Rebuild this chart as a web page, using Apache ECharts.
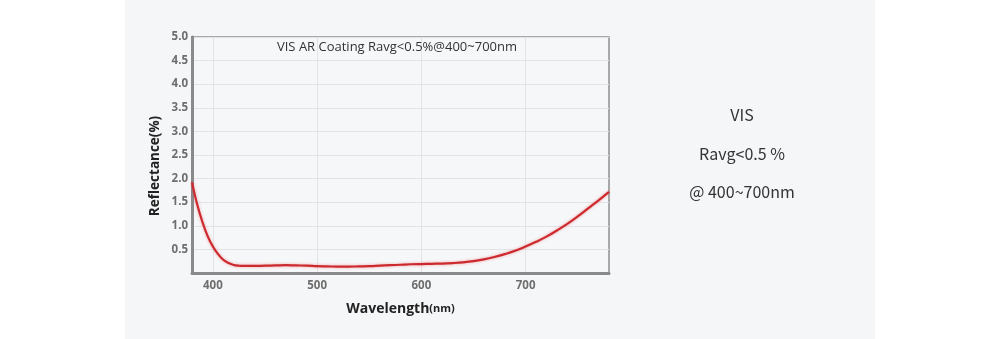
<!DOCTYPE html>
<html>
<head>
<meta charset="utf-8">
<script src="https://cdn.jsdelivr.net/npm/echarts@6/dist/echarts.min.js"></script>
<style>
  html, body { margin: 0; padding: 0; background: #ffffff; }
  #chart { width: 1000px; height: 339px; }
</style>
</head>
<body>
<div id="chart"></div>
<script>
// Reflectance spectrum of the visible-band AR coating
const wavelengths = [380, 385, 390, 395, 400, 405, 410, 415, 420, 425, 430, 440, 450, 460, 470, 480, 490,
  500, 510, 520, 530, 540, 550, 560, 570, 580, 590, 600, 610, 620, 630, 640, 650, 660, 670, 680, 690,
  700, 710, 720, 730, 740, 750, 760, 770, 780];
const reflectance = [1.92, 1.45, 1.08, 0.78, 0.56, 0.40, 0.28, 0.21, 0.17, 0.155, 0.15, 0.15, 0.155, 0.16, 0.165, 0.16, 0.155,
  0.145, 0.14, 0.135, 0.135, 0.14, 0.145, 0.155, 0.165, 0.175, 0.185, 0.19, 0.195, 0.20, 0.21, 0.225, 0.25, 0.29, 0.34, 0.40, 0.47,
  0.56, 0.66, 0.77, 0.90, 1.04, 1.20, 1.37, 1.54, 1.72];
const xTicks = [400, 500, 600, 700];
const chartTitle = 'VIS AR Coating Ravg<0.5%@400~700nm';
const sideNotes = ['VIS', 'Ravg<0.5 %', '@ 400~700nm'];

const chart = echarts.init(document.getElementById('chart'), null, { renderer: 'canvas' });

const points = wavelengths.map((w, i) => [w, reflectance[i]]);
const labelFont = 'Open Sans, DejaVu Sans, sans-serif';

chart.setOption({
  backgroundColor: '#ffffff',
  animation: false,
  graphic: [
    // light panel behind the chart and the notes
    { type: 'rect', left: 125, top: 0, z: -10, silent: true,
      shape: { width: 750, height: 339 }, style: { fill: '#f5f6f8' } },
    // caption inside the plot frame
    { type: 'text', z: 10, x: 397, y: 47,
      style: { text: chartTitle, font: '13px ' + labelFont, fill: '#333',
        align: 'center', verticalAlign: 'middle' } },
    // vertical axis title
    { type: 'text', z: 10, rotation: Math.PI / 2, x: 155, y: 166,
      style: { text: 'Reflectance(%)', font: 'bold 13.5px ' + labelFont, fill: '#222',
        align: 'center', verticalAlign: 'middle' } },
    // notes on the right
    ...sideNotes.map((t, i) => ({
      type: 'text', z: 10, x: 742, y: [115, 154, 192][i],
      style: { text: t, font: '16px "Noto Sans CJK SC", "Noto Sans", sans-serif', fill: '#333',
        align: 'center', verticalAlign: 'middle' }
    }))
  ],
  grid: {
    left: 192, right: 391, top: 37, bottom: 66,
    show: true, borderColor: '#8f8f8f', borderWidth: 1.5, backgroundColor: '#f6f7f9'
  },
  xAxis: {
    type: 'value', min: 380, max: 780,
    name: 'Wavelength{u|(nm)}', nameLocation: 'middle', nameGap: 29,
    nameTextStyle: {
      fontFamily: labelFont, fontWeight: 'bold', fontSize: 14, color: '#222',
      rich: { u: { fontFamily: labelFont, fontWeight: 'bold', fontSize: 11, color: '#222' } }
    },
    axisLine: { show: true, lineStyle: { color: '#8a8a8a', width: 3 } },
    axisTick: { show: false, customValues: xTicks },
    axisLabel: { customValues: xTicks, margin: 7, fontFamily: labelFont, fontWeight: 'bold',
      fontSize: 11.5, color: '#6e6e6e' },
    splitLine: { show: true, lineStyle: { color: '#e2e3e6', width: 1 } }
  },
  yAxis: {
    type: 'value', min: 0, max: 5, interval: 0.5,
    axisLine: { show: true, lineStyle: { color: '#8a8a8a', width: 3 } },
    axisTick: { show: false },
    axisLabel: {
      margin: 4, fontFamily: labelFont, fontWeight: 'bold', fontSize: 11.5, color: '#6e6e6e',
      formatter: v => (v === 0 ? '' : v.toFixed(1))
    },
    splitLine: { show: true, lineStyle: { color: '#e2e3e6', width: 1 } }
  },
  series: [{
    type: 'line', data: points, smooth: 0.4, showSymbol: false, clip: true,
    lineStyle: { color: '#cc2a2f', width: 2.2, shadowColor: 'rgba(230,60,60,0.45)', shadowBlur: 3 }
  }]
});
</script>
</body>
</html>
